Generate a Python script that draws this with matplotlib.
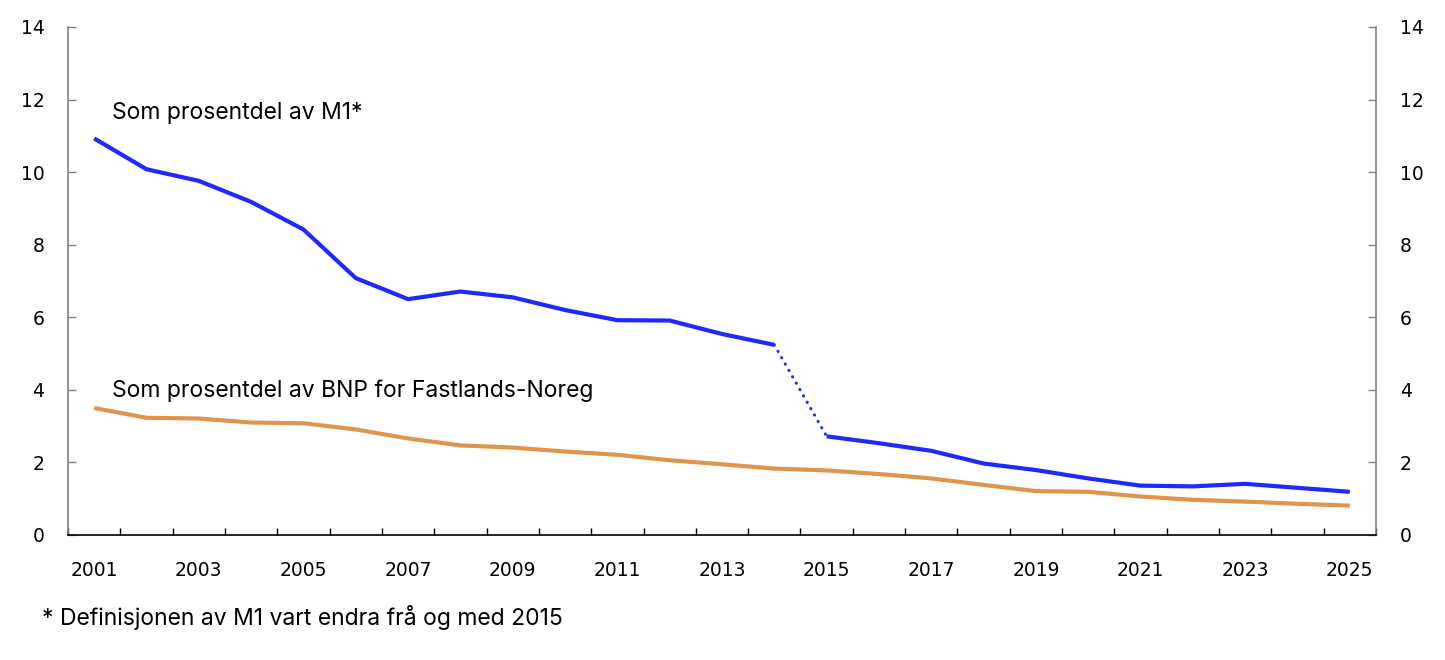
import matplotlib.pyplot as plt
import numpy as np

# Data
years = list(range(2001, 2026))
m1_share = [10.93, 10.08, 9.76, 9.18, 8.42, 7.08, 6.50, 6.71, 6.55, 6.20,
            5.92, 5.91, 5.54, 5.24,
            2.72, 2.53, 2.32, 1.97, 1.79, 1.56, 1.36, 1.34, 1.41, 1.30, 1.19]
gdp_share = [3.50, 3.23, 3.21, 3.10, 3.08, 2.91, 2.66, 2.47, 2.41, 2.30,
             2.21, 2.06, 1.95, 1.83, 1.78, 1.68, 1.56, 1.38, 1.21, 1.19,
             1.06, 0.97, 0.92, 0.86, 0.81]
break_year = 2015  # M1 definition changed

label_m1 = "Som prosentdel av M1*"
label_gdp = "Som prosentdel av BNP for Fastlands-Noreg"
footnote = "* Definisjonen av M1 vart endra frå og med 2015"

blue = "#1e28ff"
orange = "#e0954c"
grey = "#808080"
txt_font = ["Inter", "DejaVu Sans"]

fig = plt.figure(figsize=(14.45, 6.6), dpi=100)
ax = fig.add_axes([68 / 1445, 1 - 535 / 660, (1376 - 68) / 1445, (535 - 27) / 660])

x = np.arange(len(years))
ib = years.index(break_year)

ax.plot(x[:ib], m1_share[:ib], color=blue, lw=3, solid_capstyle="butt", zorder=3)
ax.plot(x[ib:], m1_share[ib:], color=blue, lw=3, solid_capstyle="butt", zorder=3)
ax.plot(x[ib - 1:ib + 1], m1_share[ib - 1:ib + 1], color=blue, lw=2.2,
        linestyle=(0, (0.1, 2.3)), dash_capstyle="round", zorder=3)
ax.plot(x, gdp_share, color=orange, lw=3, solid_capstyle="butt", zorder=2)

ax.set_xlim(-0.5, len(years) - 0.5)
ax.set_ylim(0, 14)

ax.set_xticks(x[::2])
ax.set_xticklabels([str(y) for y in years[::2]])
ax.set_xticks(np.arange(-0.5, len(years), 1), minor=True)
ax.tick_params(axis="x", which="major", length=0, pad=19, labelsize=13.5)
ax.tick_params(axis="x", which="minor", direction="in", length=5, width=1, color="black")

ax.set_yticks(np.arange(0, 15, 2))
ax.tick_params(axis="y", which="major", direction="in", length=6, width=1, color=grey,
               left=True, right=True, labelleft=True, labelright=True, pad=17,
               labelsize=13.5)

ax.spines["top"].set_visible(False)
for s in ("left", "right"):
    ax.spines[s].set_color(grey)
    ax.spines[s].set_linewidth(1.2)
ax.spines["bottom"].set_color("black")
ax.spines["bottom"].set_linewidth(1.2)

ax.text(0.35, 11.62, label_m1, fontsize=16.5, family=txt_font, va="center")
ax.text(0.35, 3.98, label_gdp, fontsize=16.5, family=txt_font, va="center")
fig.text(42 / 1445, 1 - 617 / 660, footnote, fontsize=16.5, family=txt_font,
         va="center")

fig.savefig("out.png", dpi=100)
